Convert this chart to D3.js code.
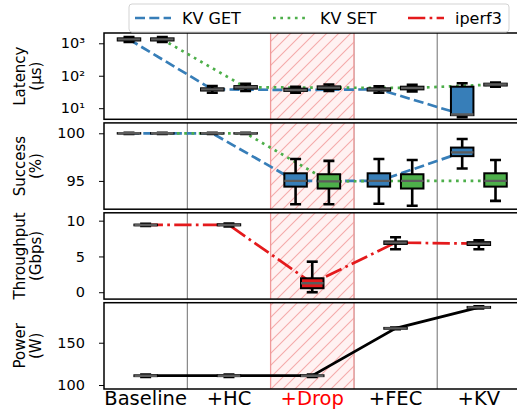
<!DOCTYPE html>
<html><head><meta charset="utf-8">
<script src="https://cdn.jsdelivr.net/npm/d3@7"></script>
<style>body{margin:0;background:#fff}svg{display:block;font-family:"DejaVu Sans",sans-serif}</style>
</head><body><svg id="c" width="517" height="410"></svg>
<script>
// ---- data ----
const groups = ["Baseline", "+HC", "+Drop", "+FEC", "+KV"];
// [whisker low, q1, median, q3, whisker high]
const latencyGet = [[1100,1220,1320,1420,1550],[30,35,38,41,48],[30,34,36.5,40,46],[30,35,38,41,47],[5.3,6.1,6.4,46,59]];
const latencySet = [[1100,1220,1320,1420,1550],[34,40,44,48,56],[34,39,43,47,54],[33,38,42,46,53],[46,50,54,57,62]];
const successGet = [[99.93,99.97,100,100.02,100.06],[99.93,99.97,100,100.02,100.06],[92.55,94.4,95.0,95.8,97.3],[92.6,94.4,95.0,95.8,97.3],[96.3,97.6,98.0,98.5,99.4]];
const successSet = [[99.93,99.97,100,100.02,100.06],[99.93,99.97,100,100.02,100.06],[92.55,94.2,94.95,95.7,97.1],[92.4,94.2,95.0,95.7,97.2],[92.9,94.4,95.0,95.8,97.2]];
const throughput = [[9.25,9.35,9.4,9.45,9.55],[9.2,9.35,9.4,9.5,9.6],[0.0,0.56,1.26,1.95,4.27],[6.0,6.75,6.93,7.1,7.68],[6.0,6.6,6.79,7.0,7.27]];
const power = [[109.5,110.5,111,111.5,112.5],[109.5,110.5,111,111.5,112.5],[109.5,110.5,111,111.5,112.5],[166,166.5,167,167.5,168],[190.5,191.3,191.8,192.3,193]];
const latencyTicks = [10, 100, 1000];
const successTicks = [95, 100];
const throughputTicks = [0, 5, 10];
const powerTicks = [100, 150];
const legendLabels = ["KV GET", "KV SET", "iperf3"];

// ---- style ----
const C = {get:"#377eb8", set:"#4daf4a", ip:"#e41a1c", pw:"#000"};
const svg = d3.select("#c");
const x = d3.scaleLinear().domain([-0.5, 4.5]).range([104, 104 + 5*83.3]);
const gw = 83.3;
const ph = 86.3, tops = [33, 122.9, 212.8, 302.7];
const lw = 2.7;

const defs = svg.append("defs");
const pat = defs.append("pattern").attr("id","hatch").attr("patternUnits","userSpaceOnUse")
  .attr("width",12).attr("height",12);
pat.append("rect").attr("width",12).attr("height",12).attr("fill","#fff2f2");
pat.append("path").attr("d","M-3,3 l6,-6 M0,12 l12,-12 M9,15 l6,-6").attr("stroke","#f5abab").attr("stroke-width",1.1);

function panel(i, y, ticks, fmt, label1, label2){
  const top = tops[i], bot = top + ph;
  const g = svg.append("g");
  defs.append("clipPath").attr("id","cp"+i).append("rect")
    .attr("x",104).attr("y",top).attr("width",420).attr("height",ph);
  const inner = g.append("g").attr("clip-path","url(#cp"+i+")");
  [0.5,1.5,2.5,3.5].forEach(v=>{
    inner.append("line").attr("x1",x(v)).attr("x2",x(v)).attr("y1",top).attr("y2",bot)
      .attr("stroke","#6e6e6e").attr("stroke-width",1);
  });
  inner.append("rect").attr("x",x(1.5)).attr("y",top-2).attr("width",x(2.5)-x(1.5)).attr("height",ph+4)
    .attr("fill","url(#hatch)").attr("stroke","#f09a9a").attr("stroke-width",1.3);
  const ax = g.append("g").attr("transform","translate(104,0)")
    .call(d3.axisLeft(y).tickValues(ticks).tickSize(5).tickPadding(14).tickFormat(fmt));
  ax.select(".domain").remove();
  ax.selectAll("line").attr("stroke","#000").attr("stroke-width",1);
  ax.selectAll("text").attr("font-size",14.5).attr("fill","#000").attr("font-family","DejaVu Sans");
  const cy = top + ph/2;
  g.append("text").attr("transform",`translate(25,${cy}) rotate(-90)`).attr("text-anchor","middle")
    .attr("font-size",15).text(label1);
  g.append("text").attr("transform",`translate(41,${cy}) rotate(-90)`).attr("text-anchor","middle")
    .attr("font-size",15).text(label2);
  return {g: inner, top, bot, frame: g};
}
function frame(p){
  p.frame.append("rect").attr("x",104).attr("y",p.top).attr("width",430).attr("height",ph)
    .attr("fill","none").attr("stroke","#000").attr("stroke-width",1.5);
}
function series(p, y, data, off, color, dash){
  const line = d3.line().x((d,i)=>x(i+off)).y(d=>y(d[2]));
  p.g.append("path").attr("d",line(data)).attr("fill","none").attr("stroke",color)
    .attr("stroke-width",lw).attr("stroke-dasharray",dash);
}
function boxes(p, y, data, off, fill){
  const bw = 0.27*gw, cw = 11;
  data.forEach((d,i)=>{
    const xc = x(i+off);
    const b = p.g.append("g");
    b.append("line").attr("x1",xc).attr("x2",xc).attr("y1",y(d[0])).attr("y2",y(d[1])).attr("stroke","#000").attr("stroke-width",2.6);
    b.append("line").attr("x1",xc).attr("x2",xc).attr("y1",y(d[3])).attr("y2",y(d[4])).attr("stroke","#000").attr("stroke-width",2.6);
    [d[0],d[4]].forEach(v=>b.append("line").attr("x1",xc-cw/2).attr("x2",xc+cw/2).attr("y1",y(v)).attr("y2",y(v)).attr("stroke","#000").attr("stroke-width",2.6));
    b.append("rect").attr("x",xc-bw/2).attr("width",bw).attr("y",y(d[3])).attr("height",Math.max(0.01,y(d[1])-y(d[3])))
      .attr("fill",fill).attr("stroke","#000").attr("stroke-width",2);
    b.append("line").attr("x1",xc-bw/2).attr("x2",xc+bw/2).attr("y1",y(d[2])).attr("y2",y(d[2])).attr("stroke","#5c5c5c").attr("stroke-width",2.4);
  });
}
const supMap = {"1":"\u00b9","2":"\u00b2","3":"\u00b3"};

const y1 = d3.scaleLog().domain([Math.pow(10,0.658), Math.pow(10,3.317)]).range([tops[0]+ph, tops[0]]);
const p1 = panel(0, y1, latencyTicks, d=>"10"+supMap[String(Math.round(Math.log10(d)))], "Latency", "(\u00b5s)");
series(p1, y1, latencyGet, -0.2, C.get, "10,4.3");
series(p1, y1, latencySet, 0.2, C.set, "2.7,4.6");
boxes(p1, y1, latencyGet, -0.2, C.get);
boxes(p1, y1, latencySet, 0.2, C.set);
frame(p1);

const y2 = d3.scaleLinear().domain([92.03, 101.09]).range([tops[1]+ph, tops[1]]);
const p2 = panel(1, y2, successTicks, d=>d, "Success", "(%)");
series(p2, y2, successGet, -0.2, C.get, "10,4.3");
series(p2, y2, successSet, 0.2, C.set, "2.7,4.6");
boxes(p2, y2, successGet, -0.2, C.get);
boxes(p2, y2, successSet, 0.2, C.set);
frame(p2);

const y3 = d3.scaleLinear().domain([-0.96, 11.1]).range([tops[2]+ph, tops[2]]);
const p3 = panel(2, y3, throughputTicks, d=>d, "Throughput", "(Gbps)");
series(p3, y3, throughput, 0, C.ip, "17.3,4.3,2.7,4.3");
boxes(p3, y3, throughput, 0, C.ip);
frame(p3);

const y4 = d3.scaleLinear().domain([95.3, 197.3]).range([tops[3]+ph, tops[3]]);
const p4 = panel(3, y4, powerTicks, d=>d, "Power", "(W)");
series(p4, y4, power, 0, C.pw, null);
boxes(p4, y4, power, 0, "#444");
frame(p4);

groups.forEach((gname,i)=>{
  svg.append("text").attr("x",x(i)).attr("y",405).attr("text-anchor","middle").attr("font-size",19.5)
    .attr("fill", gname==="+Drop" ? "#ff0000" : "#000").text(gname);
});

const lg = svg.append("g");
lg.append("rect").attr("x",129).attr("y",4).attr("width",380).attr("height",28).attr("rx",3)
  .attr("fill","#fff").attr("fill-opacity",0.9).attr("stroke","#d3d3d3").attr("stroke-width",1);
const legItems = [
  {lab:legendLabels[0], c:C.get, dash:"10,4.3", x0:135},
  {lab:legendLabels[1], c:C.set, dash:"2.7,4.6", x0:273},
  {lab:legendLabels[2], c:C.ip, dash:"17.3,4.3,2.7,4.3", x0:408}
];
legItems.forEach(it=>{
  lg.append("line").attr("x1",it.x0).attr("x2",it.x0+36).attr("y1",18).attr("y2",18)
    .attr("stroke",it.c).attr("stroke-width",lw).attr("stroke-dasharray",it.dash);
  lg.append("text").attr("x",it.x0+47).attr("y",24).attr("font-size",16).text(it.lab);
});
</script></body></html>
